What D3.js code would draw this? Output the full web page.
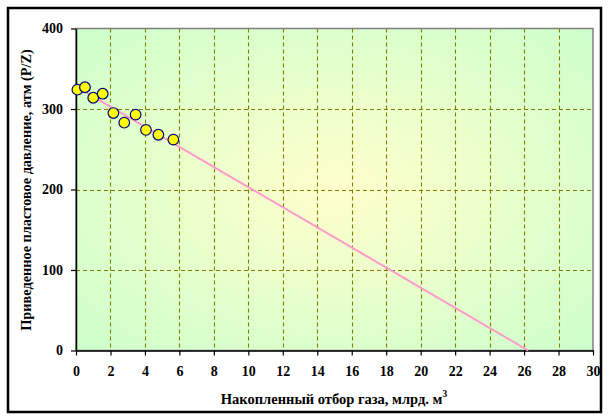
<!DOCTYPE html>
<html><head><meta charset="utf-8">
<script src="https://cdn.jsdelivr.net/npm/d3@7"></script>
<style>body{margin:0;background:#fff;} text{font-family:"Liberation Serif","Times New Roman",serif;font-weight:bold;}</style>
</head><body>
<svg id="c" width="610" height="420"></svg>
<script>
// data
const cumProduction = [0.08, 0.52, 1.0, 1.55, 2.17, 2.8, 3.46, 4.06, 4.78, 5.65];
const pressurePZ    = [324, 327, 314, 319, 295, 283, 293, 274, 268, 262];
const trendX = [0.08, 26.24];
const trendY = [327, 0];
const xTicks = [0,2,4,6,8,10,12,14,16,18,20,22,24,26,28,30];
const yTicks = [0,100,200,300,400];
const xTitle = "Накопленный отбор газа, млрд. м";
const yTitle = "Приведенное пластовое давление, атм (P/Z)";

const svg = d3.select("#c");
const L=76, R=593, T=28.5, B=350.5;
const x = d3.scaleLinear().domain([0,30]).range([L,R]);
const y = d3.scaleLinear().domain([0,400]).range([B,T]);

// outer frame
svg.append("rect").attr("x",8).attr("y",8).attr("width",593).attr("height",404)
  .attr("fill","#fff").attr("stroke","#000").attr("stroke-width",2.5);

const defs = svg.append("defs");
const g = defs.append("radialGradient").attr("id","bg").attr("cx","50%").attr("cy","50%").attr("r","72%");
g.append("stop").attr("offset","0%").attr("stop-color","#FFFFCC");
g.append("stop").attr("offset","100%").attr("stop-color","#CCFFCC");

svg.append("rect").attr("x",L).attr("y",T).attr("width",R-L).attr("height",B-T)
  .attr("fill","url(#bg)").attr("stroke","#808080").attr("stroke-width",1.5);

// grid
const grid = svg.append("g").attr("stroke","#808000").attr("stroke-width",1.1).attr("stroke-dasharray","4,3");
grid.selectAll(".vx").data(xTicks.filter(d=>d>0&&d<30)).join("line")
  .attr("x1",d=>Math.round(x(d))+0.5).attr("x2",d=>Math.round(x(d))+0.5).attr("y1",T).attr("y2",B);
grid.selectAll(".hy").data(yTicks.filter(d=>d>0&&d<400)).join("line")
  .attr("y1",d=>Math.round(y(d))+0.5).attr("y2",d=>Math.round(y(d))+0.5).attr("x1",L).attr("x2",R);

// axes
const xa = svg.append("g").attr("transform",`translate(0,${B})`)
  .call(d3.axisBottom(x).tickValues(xTicks).tickSize(5).tickPadding(11).tickSizeOuter(0));
const ya = svg.append("g").attr("transform",`translate(${L},0)`)
  .call(d3.axisLeft(y).tickValues(yTicks).tickSize(5).tickPadding(8).tickSizeOuter(0));
[xa,ya].forEach(a=>{
  a.attr("font-family",null).attr("font-size",null);
  a.select(".domain").attr("stroke","#000").attr("stroke-width",1.5);
  a.selectAll(".tick line").attr("stroke","#000").attr("stroke-width",1.2);
  a.selectAll("text").attr("font-size",14).attr("fill","#000")
   .style("font-family",'"Liberation Serif",serif').style("font-weight","bold");
});

// trend line
svg.append("line").attr("x1",x(trendX[0])).attr("y1",y(trendY[0]))
  .attr("x2",x(trendX[1])).attr("y2",y(trendY[1]))
  .attr("stroke","#FF99CC").attr("stroke-width",2);

// points
svg.selectAll(".pt").data(cumProduction).join("circle")
  .attr("cx",d=>x(d)).attr("cy",(d,i)=>y(pressurePZ[i])).attr("r",5.3)
  .attr("fill","#FFFF00").attr("stroke","#000080").attr("stroke-width",1.2);

// titles
const xt = svg.append("text").attr("x",334).attr("y",404).attr("text-anchor","middle").attr("font-size",14.5);
xt.append("tspan").text(xTitle);
xt.append("tspan").attr("font-size",9.5).attr("dy",-7).text("3");
svg.append("text").attr("transform","translate(31,190) rotate(-90)").attr("text-anchor","middle")
  .attr("font-size",14.3).text(yTitle);
</script>
</body></html>
